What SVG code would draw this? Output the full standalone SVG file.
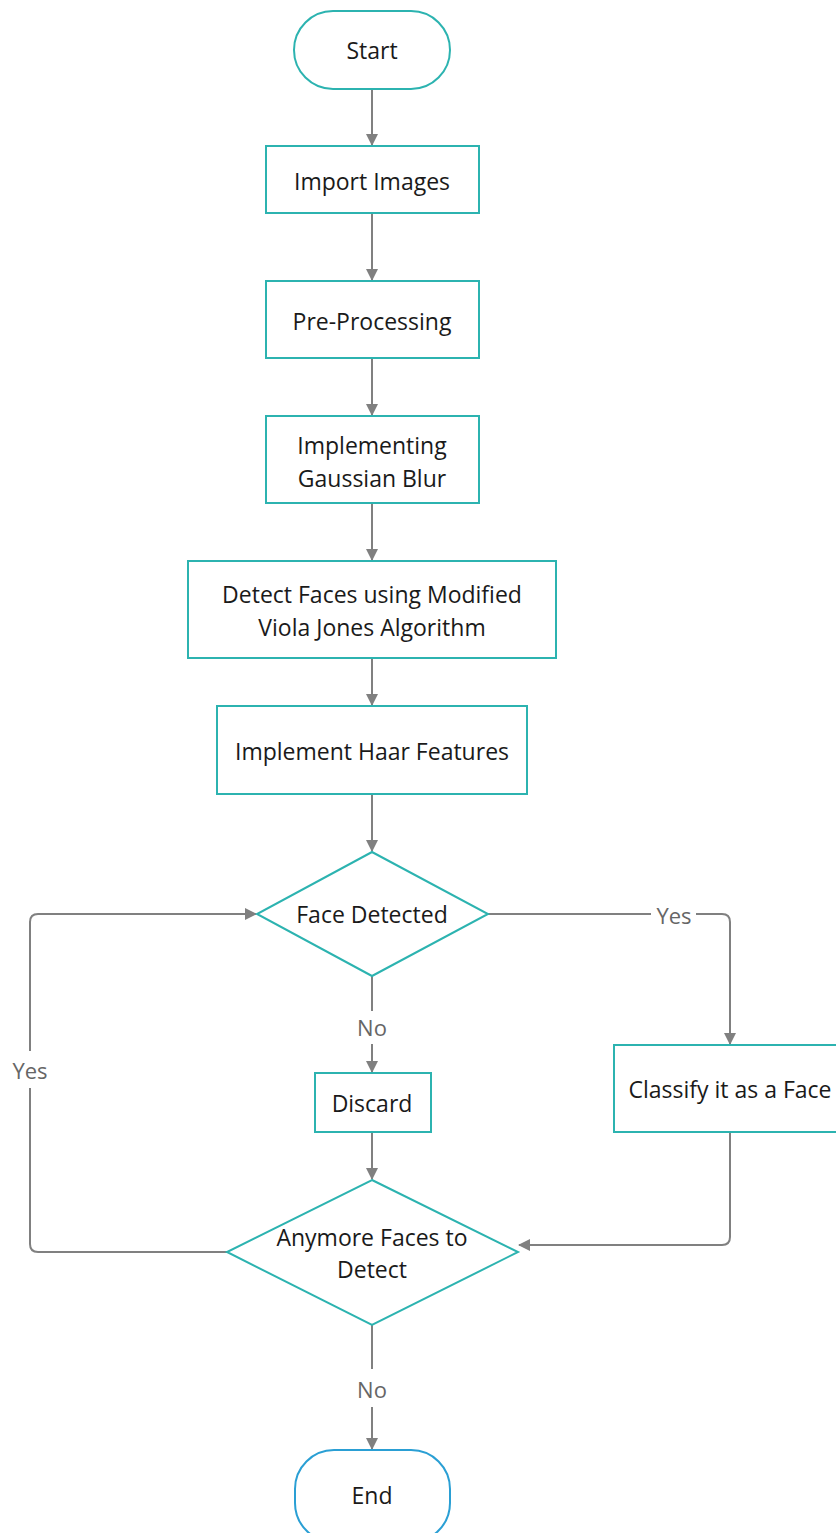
<svg xmlns="http://www.w3.org/2000/svg" width="836" height="1533" viewBox="0 0 836 1533">
  <style>
    .shape { fill: #ffffff; stroke: #2cb3b0; stroke-width: 2; }
    .term-end { fill: #ffffff; stroke: #2a9fd4; stroke-width: 2; }
    .txt { font-family: "Open Sans", "Noto Sans", sans-serif; font-size: 23px; fill: #1a1a1a; text-anchor: middle; dominant-baseline: central; }
    .lbl { font-family: "Open Sans", "Noto Sans", sans-serif; font-size: 22px; fill: #666666; text-anchor: middle; dominant-baseline: central; }
    .wire { fill: none; stroke: #808080; stroke-width: 2; }
  </style>
  <defs>
    <marker id="arrow" viewBox="0 0 12 12" refX="11" refY="6" markerWidth="12" markerHeight="12" markerUnits="userSpaceOnUse" orient="auto">
      <path d="M0,0 L12,6 L0,12 Z" fill="#808080"/>
    </marker>
  </defs>

  <rect width="836" height="1533" fill="#ffffff"/>

  <!-- connectors -->
  <g id="connectors">
    <path class="wire" d="M372,89 V145" marker-end="url(#arrow)"/>
    <path class="wire" d="M372,213 V280" marker-end="url(#arrow)"/>
    <path class="wire" d="M372,358 V415" marker-end="url(#arrow)"/>
    <path class="wire" d="M372,503 V560" marker-end="url(#arrow)"/>
    <path class="wire" d="M372,658 V705" marker-end="url(#arrow)"/>
    <path class="wire" d="M372,794 V851" marker-end="url(#arrow)"/>
    <!-- Face Detected: Yes -->
    <path class="wire" d="M488,914 H651"/>
    <path class="wire" d="M696,914 H722 Q730,914 730,922 V1044" marker-end="url(#arrow)"/>
    <text class="lbl" x="674" y="915">Yes</text>
    <!-- Face Detected: No -->
    <path class="wire" d="M372,976 V1011"/>
    <path class="wire" d="M372,1044 V1072" marker-end="url(#arrow)"/>
    <text class="lbl" x="372" y="1027">No</text>
    <!-- Discard to decision -->
    <path class="wire" d="M372,1132 V1179" marker-end="url(#arrow)"/>
    <!-- Classify to decision -->
    <path class="wire" d="M730,1132 V1237 Q730,1245 722,1245 H519" marker-end="url(#arrow)"/>
    <!-- Anymore Faces: Yes loop -->
    <path class="wire" d="M227,1252 H38 Q30,1252 30,1244 V1088"/>
    <path class="wire" d="M30,1051 V922 Q30,914 38,914 H256" marker-end="url(#arrow)"/>
    <text class="lbl" x="30" y="1070">Yes</text>
    <!-- Anymore Faces: No -->
    <path class="wire" d="M372,1325 V1369"/>
    <path class="wire" d="M372,1407 V1449" marker-end="url(#arrow)"/>
    <text class="lbl" x="372" y="1389">No</text>
  </g>

  <g id="start">
    <rect class="shape" x="294" y="11" width="156" height="78" rx="39" ry="39"/>
    <text class="txt" x="372" y="50">Start</text>
  </g>

  <g id="import-images">
    <rect class="shape" x="266" y="146" width="213" height="67"/>
    <text class="txt" x="372" y="181">Import Images</text>
  </g>

  <g id="pre-processing">
    <rect class="shape" x="266" y="281" width="213" height="77"/>
    <text class="txt" x="372" y="321">Pre-Processing</text>
  </g>

  <g id="gaussian-blur">
    <rect class="shape" x="266" y="416" width="213" height="87"/>
    <text class="txt" x="372" y="445">Implementing</text>
    <text class="txt" x="372" y="478">Gaussian Blur</text>
  </g>

  <g id="detect-faces">
    <rect class="shape" x="188" y="561" width="368" height="97"/>
    <text class="txt" x="372" y="594">Detect Faces using Modified</text>
    <text class="txt" x="372" y="627">Viola Jones Algorithm</text>
  </g>

  <g id="haar-features">
    <rect class="shape" x="217" y="706" width="310" height="88"/>
    <text class="txt" x="372" y="751">Implement Haar Features</text>
  </g>

  <g id="face-detected">
    <polygon class="shape" points="372,852 488,914 372,976 257,914"/>
    <text class="txt" x="372" y="914">Face Detected</text>
  </g>

  <g id="discard">
    <rect class="shape" x="315" y="1073" width="116" height="59"/>
    <text class="txt" x="372" y="1103">Discard</text>
  </g>

  <g id="classify-face">
    <rect class="shape" x="614" y="1045" width="230" height="87"/>
    <text class="txt" x="730" y="1089">Classify it as a Face</text>
  </g>

  <g id="more-faces">
    <polygon class="shape" points="372,1180 518,1252 372,1325 227,1252"/>
    <text class="txt" x="372" y="1237">Anymore Faces to</text>
    <text class="txt" x="372" y="1269">Detect</text>
  </g>

  <g id="end">
    <rect class="term-end" x="295" y="1450" width="155" height="92" rx="39" ry="39"/>
    <text class="txt" x="372" y="1495">End</text>
  </g>
</svg>
